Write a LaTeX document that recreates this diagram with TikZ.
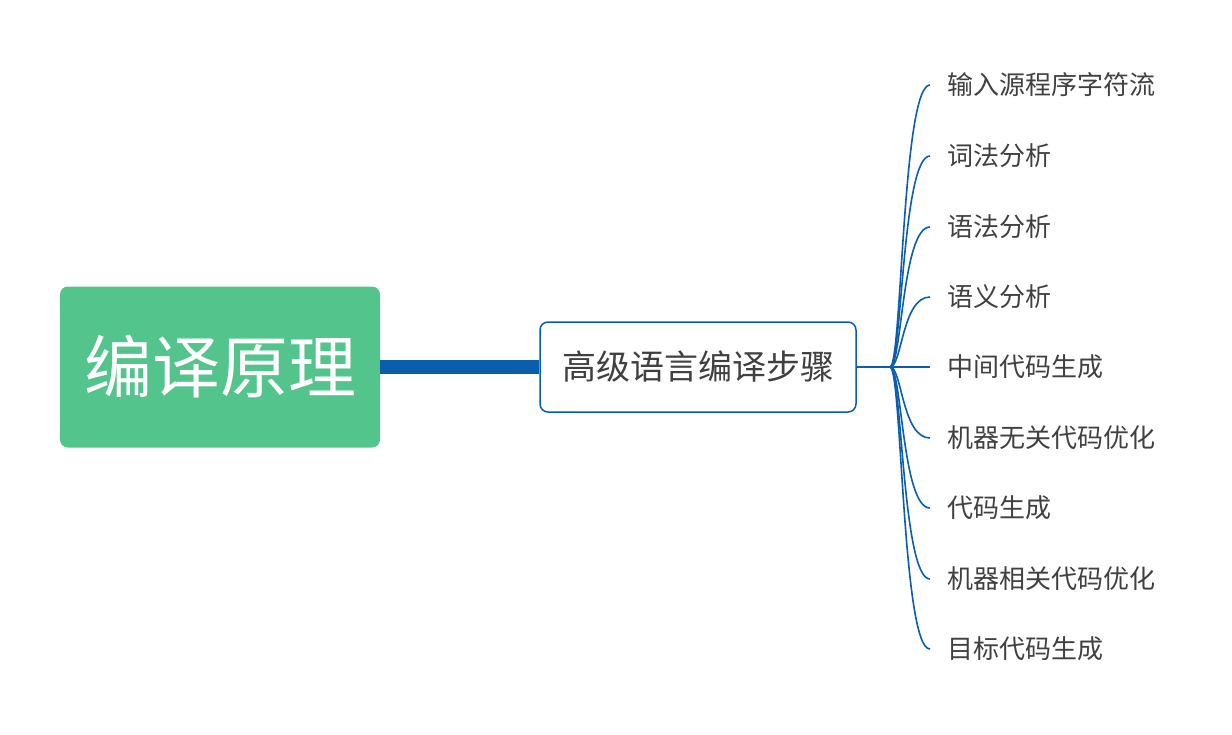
\documentclass[tikz,border=0pt]{standalone}
\usepackage{fontspec}
\setmainfont{Noto Sans CJK SC}
\usepackage{tikz}

\definecolor{rootgreen}{RGB}{82,196,140}
\definecolor{linkblue}{RGB}{10,94,172}
\definecolor{textgray}{RGB}{64,64,64}

\tikzset{
  rootbox/.style={fill=rootgreen, rounded corners=8, minimum width=320, minimum height=161,
    text=white, font=\fontsize{68}{74}\selectfont, inner sep=0},
  stepsbox/.style={draw=linkblue, line width=1.5, rounded corners=8, fill=white,
    minimum width=316, minimum height=90, text=textgray, font=\fontsize{34}{40}\selectfont, inner sep=0},
  leaf/.style={anchor=west, text=textgray, font=\fontsize{26}{32}\selectfont, inner sep=0},
  twig/.style={linkblue, line width=1.6}
}

\begin{document}
\begin{tikzpicture}[x=1pt,y=-1pt]
            \useasboundingbox (0,0) rectangle (1232,734);
            \node[rootbox] (root) at (220,367) {编译原理};
            \node[stepsbox] (steps) at (698,367) {高级语言编译步骤};
            \draw[linkblue, line width=14] (root.east) -- (steps.west);
            \coordinate (fork) at (890,367);
            \draw[twig] (steps.east) -- (fork);
            \foreach \i/\y/\txt in {1/85/输入源程序字符流, 2/156/词法分析, 3/227/语法分析, 4/297/语义分析,
                                    5/367/中间代码生成, 6/438/机器无关代码优化, 7/508/代码生成,
                                    8/579/机器相关代码优化, 9/649/目标代码生成} {
              \node[leaf] (s\i) at (947,\y) {\txt};
              \draw[twig] (fork) .. controls +(12,0) and +(-28,0) .. ([xshift=-17]s\i.west);
            }
        \end{tikzpicture}
\end{document}
